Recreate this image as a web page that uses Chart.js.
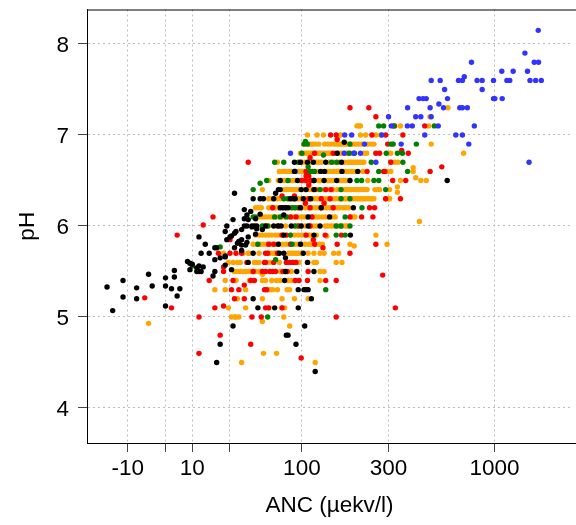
<!DOCTYPE html>
<html>
<head>
<meta charset="utf-8">
<script src="https://cdn.jsdelivr.net/npm/chart.js@4"></script>
<style>
html, body { margin: 0; padding: 0; background: #fff; }
canvas { display: block; }
</style>
</head>
<body>
<canvas id="grafico" width="576" height="525"></canvas>
<script>
// each row: [pH, [ANC values read at that pH]]
const blackRows = [
  [6.92, [175]], [6.8, [160]],
  [6.7, [90, 98, 108, 117, 138, 169]],
  [6.6, [90, 129, 136, 170, 207]],
  [6.5, [73, 94, 118, 135, 159, 188, 590]],
  [6.4, [71, 73, 99, 106, 118]],
  [6.36, [33, 68]],
  [6.3, [47, 53, 56, 66, 85, 89, 91, 102, 113]],
  [6.2, [73, 76, 79, 82, 98, 130, 196]],
  [6.18, [40]], [6.16, [45]], [6.13, [53]], [6.12, [42, 77]],
  [6.1, [109, 145]],
  [6.08, [40, 49]], [6.07, [32, 43]],
  [6.0, [28, 40, 42, 46, 48, 50, 58, 66, 71, 74, 86, 99, 109, 128]],
  [5.99, [46]], [5.97, [50]], [5.96, [38, 55]], [5.94, [27, 34]], [5.92, [33]], [5.91, [49]],
  [5.89, [31]], [5.88, [13, 30, 43]], [5.85, [28, 38]], [5.83, [36]], [5.82, [42]], [5.81, [35]],
  [5.9, [77, 118, 189]],
  [5.8, [16, 71, 98]], [5.79, [38, 41]], [5.76, [21, 22, 33]], [5.73, [38]],
  [5.7, [14, 18, 47, 72, 77, 102]],
  [5.67, [27]], [5.66, [27]], [5.65, [24, 79]], [5.63, [21]], [5.61, [8]], [5.59, [9]],
  [5.6, [43, 108]], [5.58, [10]], [5.57, [27]], [5.56, [13]], [5.55, [15]], [5.54, [12]], [5.52, [9, 31]], [5.51, [3]],
  [5.5, [12, 13, 14, 21, 79, 93, 118]],
  [5.47, [-5]], [5.45, [20]], [5.44, [3]], [5.43, [0]],
  [5.4, [-11, 78]], [5.34, [-4, 0]], [5.33, [-14]], [5.32, [-8]], [5.31, [2, 5]],
  [5.3, [95, 103, 106, 109]], [5.23, [4]], [5.22, [-11]],
  [5.2, [-8, 47, 114]], [5.12, [0]],
  [5.1, [51, 67, 95]], [5.07, [-13]],
  [4.9, [32, 104]], [4.8, [80, 82]], [4.7, [24, 92]], [4.5, [22]], [4.4, [120]]
];
const blueRows = [
  [8.15, [1620]], [7.9, [1400]], [7.8, [775, 1550, 1625]], [7.7, [1085, 1230, 1440]],
  [7.64, [715]],
  [7.6, [492, 545, 670, 700, 825, 873, 990, 1148, 1185, 1480, 1575, 1675]],
  [7.5, [573, 873]],
  [7.4, [428, 448, 465, 592, 990, 1005, 1090]],
  [7.34, [537]],
  [7.3, [375, 486, 566, 680, 700, 740]],
  [7.2, [300, 412, 437, 492]],
  [7.1, [310, 374, 396, 533, 800]],
  [7.0, [176, 192, 277, 457, 650, 700]],
  [6.9, [225, 348, 752]],
  [6.8, [85, 175, 197, 214]],
  [6.7, [258, 1465]],
  [6.6, [91]]
];
const greenRows = [
  [7.1, [267, 283, 319, 510]],
  [6.93, [105]],
  [6.9, [103, 108, 188, 308, 317, 415]],
  [6.8, [100, 186, 199, 292, 333, 353]],
  [6.78, [134]],
  [6.7, [67, 77, 95, 149, 159, 244, 355]],
  [6.65, [109]],
  [6.6, [112, 115, 119, 267, 375]],
  [6.5, [59, 82, 205, 217, 252, 267]],
  [6.47, [53]],
  [6.4, [47, 128, 168, 290]],
  [6.3, [77, 82, 168, 188]],
  [6.2, [87, 91, 218]],
  [6.1, [47, 49, 67, 73, 80, 177]],
  [6.0, [55, 60, 91, 158, 168, 188]],
  [5.9, [85, 158, 177]],
  [5.8, [51, 87]],
  [5.77, [24]], [5.63, [68]], [5.56, [10]],
  [5.3, [138]], [5.0, [60]]
];
const redRows = [
  [7.3, [188, 237]], [7.2, [258]],
  [7.1, [322, 457]],
  [7.0, [147, 158, 246, 290, 355]],
  [6.95, [160]], [6.9, [297]], [6.83, [350]],
  [6.8, [119, 152, 258, 270, 378]],
  [6.75, [112]],
  [6.7, [43, 308]], [6.65, [555]],
  [6.6, [106, 112, 232, 283, 287, 486]],
  [6.55, [106, 110]],
  [6.5, [100, 106, 113, 118, 315, 367]],
  [6.45, [110]],
  [6.4, [120, 138, 148]],
  [6.33, [75, 90]],
  [6.3, [110, 130, 146, 290, 345]],
  [6.25, [105, 135]],
  [6.2, [65, 95, 112, 130, 152, 239, 254]],
  [6.1, [20, 85, 92, 115, 188, 217, 249]],
  [6.01, [15]],
  [6.0, [70, 95, 112]],
  [5.9, [4, 75, 80, 106, 137, 169]],
  [5.85, [30, 117]],
  [5.8, [61, 66, 85, 119, 160, 258]],
  [5.76, [133]],
  [5.7, [23, 30, 34, 38, 58, 60, 70, 188]],
  [5.6, [42, 57, 58, 66, 80, 84, 88, 92]],
  [5.55, [26]],
  [5.5, [26, 47, 55, 58, 62, 65, 68, 76, 78, 81, 109]],
  [5.46, [280]],
  [5.4, [18, 32, 45, 48, 91, 96, 108, 138, 158]],
  [5.35, [40]],
  [5.3, [31, 36, 57, 59]],
  [5.21, [-6]], [5.2, [33, 40]],
  [5.12, [26]], [5.1, [2, 21, 58, 61, 75, 325]],
  [5.0, [13, 46, 54, 158]],
  [4.8, [24]], [4.7, [45]], [4.6, [13]], [4.55, [99]]
];
const orangeRows = [
  [7.3, [595]], [7.2, [485]],
  [7.1, [205, 210, 214, 345, 478]],
  [7.0, [108, 123, 134, 167, 214, 228, 258, 273]],
  [6.9, [103, 106, 110, 113, 117, 121, 126, 136, 142, 148, 154, 158, 162, 166, 170, 174, 178, 183, 188, 192, 197, 202, 209, 217, 225, 234, 243, 252, 315, 492]],
  [6.8, [98, 103, 106, 109, 112, 115, 118, 121, 125, 128, 132, 136, 140, 144, 148, 156, 162, 168, 174, 180, 190, 223, 231, 308, 710]],
  [6.7, [70, 100, 104, 112, 122, 126, 130, 144, 153, 163, 175, 183, 188, 192, 197, 202, 207, 212, 217, 223, 308, 322, 335]],
  [6.64, [400]],
  [6.6, [72, 75, 78, 80, 83, 86, 89, 92, 95, 100, 104, 121, 125, 132, 140, 146, 152, 158, 162, 166, 174, 178, 186, 192, 200, 220, 297, 308, 400]],
  [6.53, [412]],
  [6.5, [61, 71, 75, 78, 81, 85, 88, 91, 97, 100, 103, 125, 128, 142, 148, 154, 164, 168, 174, 178, 183, 234, 345, 437, 465]],
  [6.43, [333]],
  [6.4, [55, 77, 80, 83, 86, 89, 92, 95, 100, 104, 108, 112, 116, 122, 126, 135, 140, 146, 152, 160, 165, 170, 176, 181, 186, 191, 196, 202, 208, 214, 220, 226, 232, 255, 262, 270, 304]],
  [6.37, [333]],
  [6.3, [61, 64, 67, 70, 74, 78, 82, 86, 90, 95, 99, 103, 107, 111, 115, 119, 123, 128, 132, 136, 140, 145, 152, 157, 162, 167, 172, 177, 182, 187, 192, 197, 202, 207, 212, 217, 222, 228, 234, 240, 246, 252, 290, 300, 304]],
  [6.2, [49, 51, 54, 61, 64, 67, 68, 71, 75, 80, 85, 90, 95, 100, 105, 110, 115, 120, 125, 130, 135, 140, 145, 150, 155, 160, 165, 172, 178, 185]],
  [6.1, [52, 55, 58, 61, 64, 67, 70, 74, 78, 82, 86, 90, 95, 100, 104, 108, 112, 116, 121, 126, 132, 138, 144, 150, 156, 190, 195, 200]],
  [6.05, [430]],
  [6.0, [55, 58, 61, 79, 90, 95, 100, 105, 112, 117, 122, 137, 142, 148, 154, 160, 166, 172, 178, 183]],
  [5.9, [49, 52, 55, 58, 61, 64, 68, 71, 75, 80, 85, 90, 95, 100, 105, 110, 113, 122, 258]],
  [5.89, [140]],
  [5.8, [47, 50, 53, 56, 59, 62, 65, 68, 72, 76, 80, 85, 91, 95, 100, 105, 110, 113, 122, 127, 132, 188, 295]],
  [5.78, [198]],
  [5.7, [26, 39, 43, 44, 52, 61, 63, 66, 68, 71, 83, 86, 89, 92, 95, 99, 109, 118, 128, 135, 153, 163]],
  [5.6, [29, 32, 35, 37, 48, 50, 52, 62, 72, 84, 88, 92, 96, 109, 118, 122, 158, 170]],
  [5.5, [33, 35, 37, 39, 41, 43, 45, 47, 49, 52, 73, 86, 128, 135]],
  [5.47, [55]],
  [5.4, [27, 34, 44, 55, 58, 64, 69, 73, 82, 86, 128]],
  [5.3, [21, 27, 41, 59, 61, 63, 65, 70, 81, 84]],
  [5.2, [35, 55, 75, 90, 109]],
  [5.1, [29, 41, 61, 75, 78]],
  [5.0, [31, 33, 34, 36, 77]],
  [4.95, [55]], [4.93, [-5]], [4.9, [84]],
  [4.6, [56, 69]], [4.5, [38, 120]]
];

const ancTicks = [-10, 0, 10, 30, 100, 300, 1000];
const ancLabels = [-10, 10, 100, 300, 1000];
const phTicks = [4, 5, 6, 7, 8];
const ancShift = 30; // axis is log10(ANC + 30)

function puntos(rows) {
  const out = [];
  rows.forEach(r => r[1].forEach(a => out.push({ x: a + ancShift, y: r[0] })));
  return out;
}

function serie(rows, color) {
  return { data: puntos(rows), backgroundColor: color, borderWidth: 0, pointRadius: 2.7 };
}

const marco = {
  id: 'marco',
  afterDatasetsDraw(chart) {
    const a = chart.chartArea, c = chart.ctx;
    c.save();
    c.strokeStyle = '#000';
    c.lineWidth = 1;
    c.strokeRect(a.left + 0.5, a.top + 0.5, a.right - a.left + 5, a.bottom - a.top);
    c.restore();
  }
};

const tipo = { family: '"Liberation Sans", Arial, sans-serif', size: 22.5 };

new Chart(document.getElementById('grafico').getContext('2d'), {
  type: 'scatter',
  data: {
    datasets: [
      serie(blackRows, '#000000'),
      serie(blueRows, '#3333ff'),
      serie(greenRows, '#008000'),
      serie(redRows, '#ff0000'),
      serie(orangeRows, '#ffa500')
    ]
  },
  options: {
    responsive: false,
    animation: false,
    layout: { padding: { top: 9.5 } },
    plugins: { legend: { display: false }, tooltip: { enabled: false } },
    scales: {
      x: {
        type: 'logarithmic',
        bounds: 'data',
        min: 12.9,
        max: 2372,
        afterFit: s => { s.height = 82; s.paddingLeft = 0; s.paddingRight = 0; },
        afterBuildTicks: s => { s.ticks = ancTicks.map(v => ({ value: v + ancShift })); },
        ticks: {
          autoSkip: false,
          maxRotation: 0,
          padding: 3,
          color: '#000',
          font: tipo,
          callback: v => (ancLabels.includes(v - ancShift) ? String(v - ancShift) : '')
        },
        grid: { color: '#bdbdbd', tickColor: '#444', tickLength: 9, lineWidth: 1 },
        border: { color: '#000', dash: [2, 3] },
        title: { display: true, text: 'ANC (µekv/l)', color: '#000', font: tipo, padding: { top: 0, bottom: 6 } }
      },
      y: {
        min: 3.615,
        max: 8.379,
        afterFit: s => { s.width = 87; s.paddingTop = 0; s.paddingBottom = 0; },
        afterBuildTicks: s => { s.ticks = phTicks.map(v => ({ value: v })); },
        ticks: { padding: 9, labelOffset: 1.5, color: '#000', font: tipo, callback: v => String(v) },
        grid: { color: '#bdbdbd', tickColor: '#444', tickLength: 9, lineWidth: 1 },
        border: { color: '#000', dash: [2, 3] },
        title: { display: true, text: 'pH', color: '#000', font: tipo, padding: { top: 14, bottom: 0 } }
      }
    }
  },
  plugins: [marco]
});
</script>
</body>
</html>
